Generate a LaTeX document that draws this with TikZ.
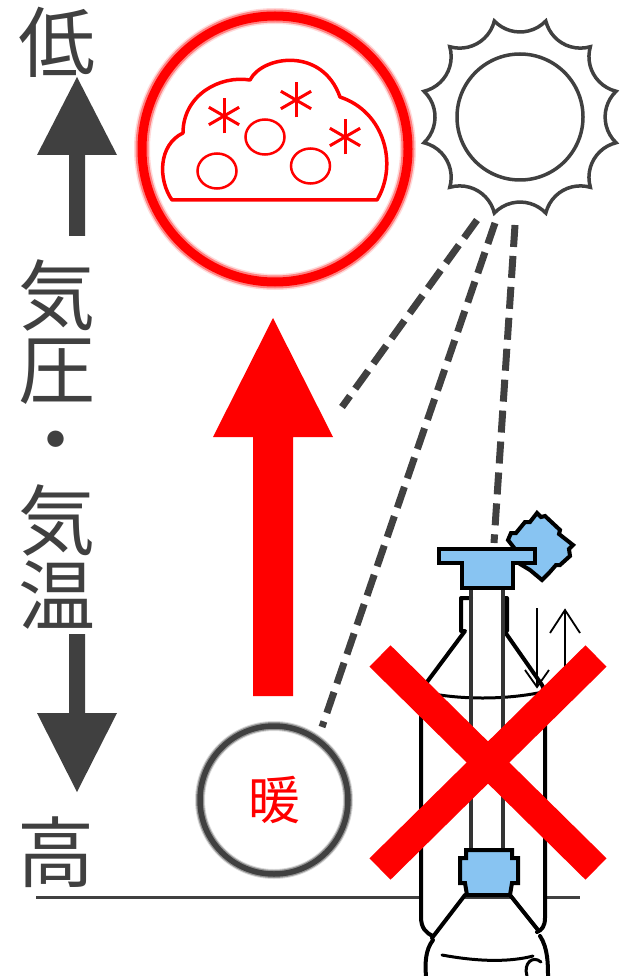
\documentclass[tikz,border=0pt]{standalone}
\usepackage{fontspec}
\newfontfamily\jp{Noto Sans CJK JP}
\usetikzlibrary{calc}
\definecolor{ink}{HTML}{404040}
\definecolor{alarm}{HTML}{FF0000}
\definecolor{capblue}{HTML}{88C4F2}
\definecolor{thin}{HTML}{8C8C8C}

\begin{document}
\begin{tikzpicture}[x=1pt,y=-1pt,
  axislabel/.style={font=\jp\fontsize{77}{80}\selectfont, text=ink, inner sep=0},
  ray/.style={draw=ink, line width=7, dash pattern=on 22 off 9},
  outline/.style={draw=black, line width=4, line join=round, line cap=round},
  tube/.style={draw=ink!80!black, line width=4},
  cloudline/.style={draw=alarm, line width=3.5, line join=round},
  snow/.pic={\foreach \a in {90,30,150}{\draw[alarm, line width=3] (\a:17.5) -- (\a+180:17.5);}}]
\useasboundingbox (0,0) rectangle (627,976);

% vertical scale on the left
\node[axislabel] (low)  at (57,42)  {低};
\node[axislabel] (ki1)  at (57,295) {気};
\node[axislabel] (atsu) at (57,372) {圧};
\node[axislabel] (dot)  at (56,450) {・};
\node[axislabel] (ki2)  at (57,520) {気};
\node[axislabel] (on)   at (57,595) {温};
\node[axislabel] (high) at (56,852) {高};
\fill[ink] (69,236) -- (69,155) -- (37,155) -- (77,77) -- (117,155) -- (85,155) -- (85,236) -- cycle;
\fill[ink] (69,634) -- (85,634) -- (85,713) -- (117,713) -- (77,792) -- (37,713) -- (69,713) -- cycle;

% ground
\draw[ink, line width=3] (36,897) -- (580,897);

% cold air: ring with cloud
\node[circle, minimum size=266, inner sep=0] (cold) at (275,149) {};
\foreach \w/\o in {16/0.15, 13/0.4, 9/1}
  \draw[alarm, line width=\w, opacity=\o] (cold.center) circle[radius=133];
\draw[cloudline] (172,200) .. controls (158,180) and (158,145) .. (183,133)
  .. controls (183,95) and (220,75) .. (250,80)
  .. controls (262,56) and (322,46) .. (340,97)
  .. controls (385,112) and (398,165) .. (377,200) -- cycle;
\foreach \p in {(217,171),(265,137),(310.5,166)}
  \draw[alarm, line width=2.5] \p ellipse[x radius=19.5, y radius=17.5];
\pic at (224,116) {snow};
\pic at (296,100) {snow};
\pic at (345,137) {snow};

% sun: disc and scalloped corona
\node[circle, draw=ink, line width=3.5, minimum size=126, inner sep=0] (sun) at (520,117) {};
\draw[ink, line width=3.5, line join=miter, shift={(sun.center)}] (15:99.5)
  \foreach \k in {0,...,11} { arc[start angle={30+30*\k+226.3}, end angle={30+30*\k+133.7}, radius=35.6] } -- cycle;

% rising warm air
\fill[alarm] (253,696) -- (253,437) -- (213,437) -- (273,318) -- (333,437) -- (293,437) -- (293,696) -- cycle;
\node[circle, minimum size=148, inner sep=0, text=alarm, font=\jp\fontsize{52}{56}\selectfont] (warm) at (274,800) {暖};
\foreach \w/\o in {10/0.2, 8/0.45, 5.5/1}
  \draw[ink, line width=\w, opacity=\o] (warm.center) circle[radius=74];

% bottle
\fill[white] (463,632) -- (427,682) -- (421,692) -- (421,920) -- (433,936) -- (465,895)
  -- (510,895) -- (538,932) -- (545,920) -- (545,692) -- (542,685) -- (505,632) -- cycle;
\draw[outline] (471,598) -- (461,598) -- (461,631) -- (465,631) -- (427,682)
  -- (421,692) -- (421,917) .. controls (421,928) and (426,933) .. (433,936);
\draw[outline] (503,598) -- (507,598) -- (507,631) -- (505,632) -- (542,685)
  -- (545,692) -- (545,918) .. controls (545,926) and (542,930) .. (537,932);
\draw[outline, line width=3] (423,692) .. controls (460,700) and (505,700) .. (543,692);
\draw[outline] (465,895) -- (432,938);
\draw[outline] (510,895) -- (538,930);
\draw[outline] (433,940) .. controls (425,950) and (425,965) .. (426,976);
\draw[outline] (540,936) .. controls (548,948) and (548,965) .. (548,976);
\draw[outline, line width=3] (442,955) .. controls (480,962) and (510,962) .. (533,956);
\draw[outline, line width=3] (527,976) .. controls (523,963) and (533,955) .. (541,962);
\draw[tube] (471,587) -- (471,852);
\draw[tube] (503,587) -- (503,852);
% lower coupling
\draw[outline, fill=capblue, line join=miter] (466,850) -- (512,850) -- (512,858) -- (518,858)
  -- (518,883) -- (512,883) -- (510,895) -- (467,895) -- (465,883) -- (460,883)
  -- (460,858) -- (466,858) -- cycle;
% cap and its lid
\draw[outline, fill=capblue, line join=miter] (537,513) -- (541,517) -- (545,516) -- (560,530)
  -- (559,534) -- (573,545) -- (569,549) -- (570,556) -- (560,565) -- (556,565)
  -- (549,573) -- (542,580) -- (530,570) -- (520,564) -- (515,549) -- (508,540)
  -- (511,533) -- (516,533) -- (525,522) -- (530,522) -- cycle;
\draw[outline, fill=capblue, line join=miter] (439,549) -- (535,549) -- (535,563) -- (513,563)
  -- (513,588) -- (462,588) -- (462,563) -- (439,563) -- cycle;

% thin motion arrows
\draw[thin, line width=1.8] (537,608) -- (537,687);
\draw[thin, line width=1.8] (525,670) -- (537,687) -- (549,670);
\draw[thin, line width=1.8] (565,673) -- (565,610);
\draw[thin, line width=1.8] (550,633) -- (565,610) -- (580,633);

% sun rays
\coordinate (r1s) at (477,220);
\coordinate (r1e) at (342,407);
\coordinate (r2s) at (495,223);
\coordinate (r2e) at (322,727);
\coordinate (r3s) at (515,225);
\coordinate (r3e) at (494,543);
\draw[ray] (r1s) -- (r1e);
\draw[ray] (r2s) -- (r2e);
\draw[ray] (r3s) -- (r3e);

% cross
\draw[alarm, line width=30] (380,656) -- (596,869);
\draw[alarm, line width=30] (380,869) -- (596,656);
\end{tikzpicture}
\end{document}
